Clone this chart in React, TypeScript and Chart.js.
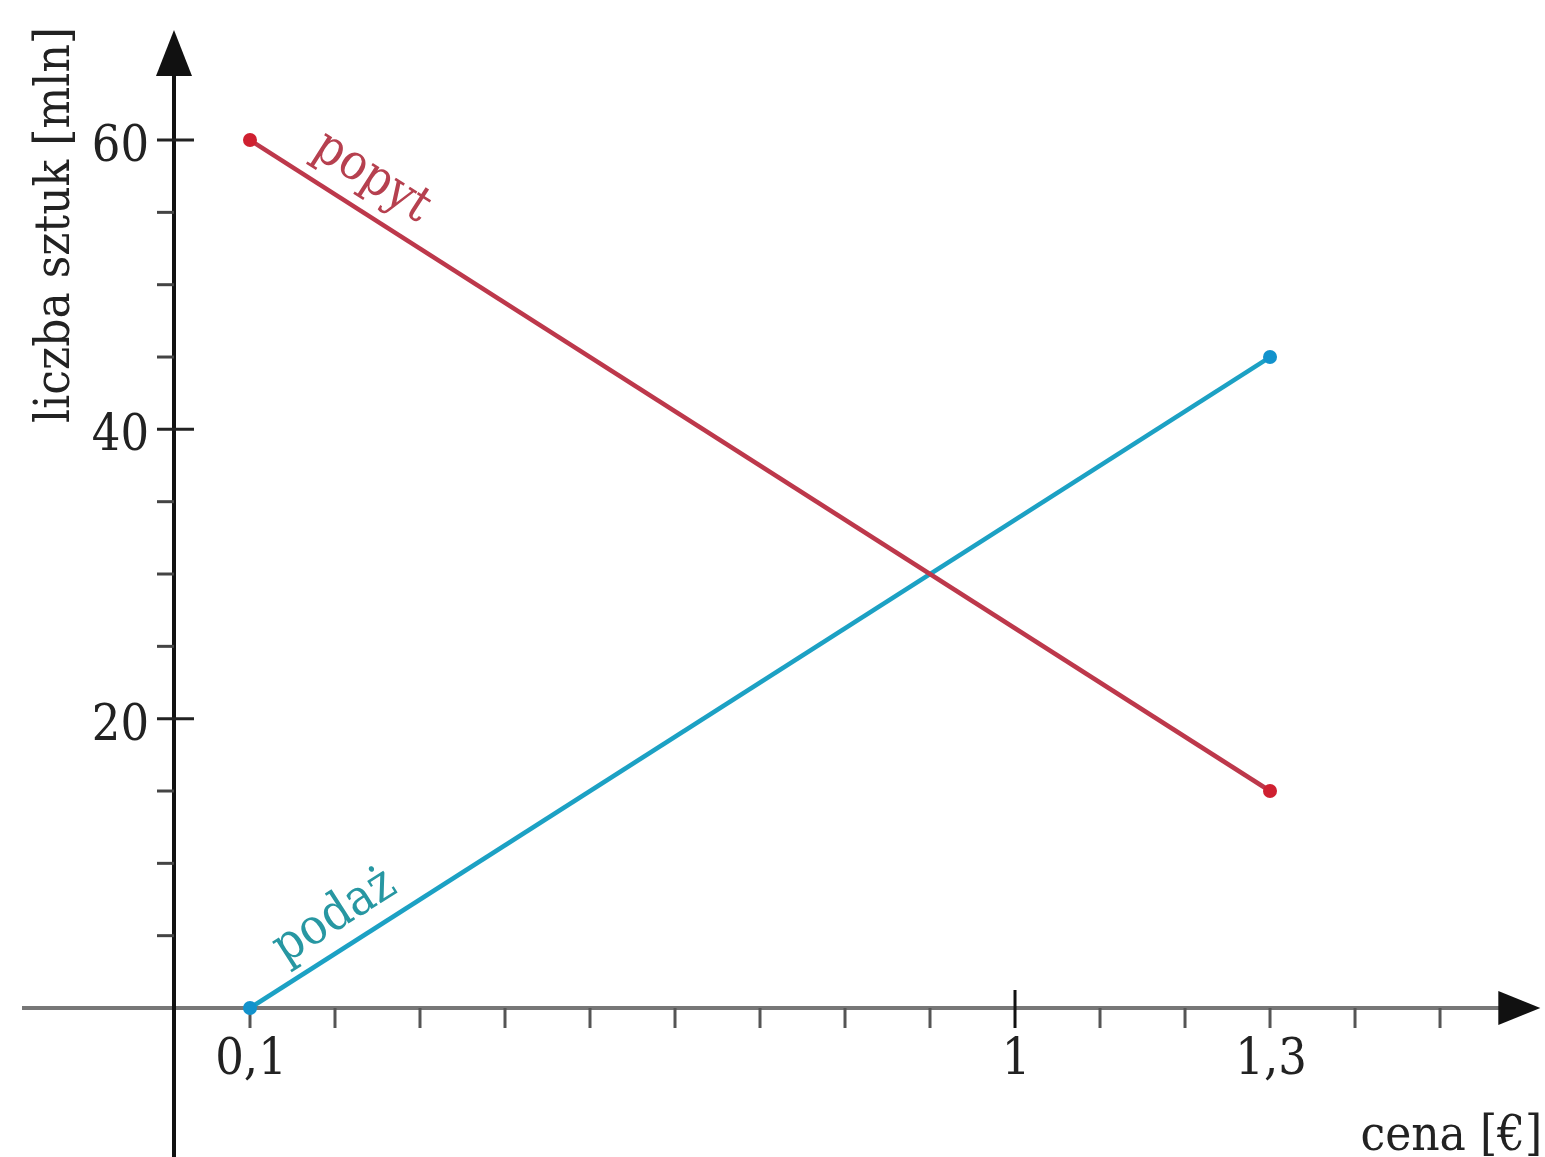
import React, { useEffect, useRef } from "react";
import { Chart, registerables } from "chart.js";

Chart.register(...registerables);

// ---- data ----
const priceSeries = [0.1, 1.3];
const demandValues = [60, 15];
const supplyValues = [0, 45];
const seriesNames = ["popyt", "podaż"];
const seriesLineColors = ["#bd384b", "#1ca1c4"];
const seriesPointColors = ["#cf2030", "#1292cc"];
const seriesLabelColors = ["#b6404f", "#2797a2"];
// label anchor points (data coords) for the in-chart series names
const labelX = [0.243, 0.2];
const labelY = [57.4, 6.3];

const xTickValues = [0.1, 0.2, 0.3, 0.4, 0.5, 0.6, 0.7, 0.8, 0.9, 1.0, 1.1, 1.2, 1.3, 1.4, 1.5];
const xMajorTicks = [1.0];
const xTickLabels: [number, string][] = [
  [0.1, "0,1"],
  [1.0, "1"],
  [1.3, "1,3"],
];
const yTickValues = [5, 10, 15, 20, 25, 30, 35, 40, 45, 50, 55, 60];
const yMajorTicks = [20, 40, 60];
const yTickLabels: [number, string][] = [
  [20, "20"],
  [40, "40"],
  [60, "60"],
];
const xTitle = "cena [€]";
const yTitle = "liczba sztuk [mln]";

// axis extents
const X_MIN = -0.1941;
const X_MAX = 1.6235;
const Y_MIN = -10.3;
const Y_MAX = 69.68;
const AXIS_X = 0.0106; // where the vertical axis crosses
const X_AXIS_START = -0.1682;
const X_AXIS_END = 1.618;
const Y_AXIS_END = 67.6;

const FONT = '"DejaVu Serif Condensed", "DejaVu Serif", serif';

const axesPlugin = {
  id: "customAxes",
  beforeDatasetsDraw(chart: any) {
    const { ctx } = chart;
    const xs = chart.scales.x;
    const ys = chart.scales.y;
    const ax = xs.getPixelForValue(AXIS_X);
    const ay = ys.getPixelForValue(0);
    const left = xs.getPixelForValue(X_AXIS_START);
    const xEnd = xs.getPixelForValue(X_AXIS_END);
    const yEnd = ys.getPixelForValue(Y_AXIS_END);
    const bottom = ys.getPixelForValue(Y_MIN);
    ctx.save();
    // x axis line
    ctx.strokeStyle = "#777";
    ctx.lineWidth = 4;
    ctx.beginPath();
    ctx.moveTo(left, ay);
    ctx.lineTo(xEnd - 38, ay);
    ctx.stroke();
    // x arrow
    ctx.fillStyle = "#111";
    ctx.beginPath();
    ctx.moveTo(xEnd, ay);
    ctx.lineTo(xEnd - 42, ay - 17);
    ctx.lineTo(xEnd - 42, ay + 17);
    ctx.closePath();
    ctx.fill();
    // x ticks
    for (const v of xTickValues) {
      const px = xs.getPixelForValue(v);
      const major = xMajorTicks.includes(v);
      ctx.strokeStyle = major ? "#111" : "#555";
      ctx.lineWidth = 3;
      ctx.beginPath();
      ctx.moveTo(px, major ? ay - 18 : ay);
      ctx.lineTo(px, ay + 20);
      ctx.stroke();
    }
    // y axis line
    ctx.strokeStyle = "#111";
    ctx.lineWidth = 4;
    ctx.beginPath();
    ctx.moveTo(ax, bottom);
    ctx.lineTo(ax, yEnd + 40);
    ctx.stroke();
    // y arrow
    ctx.fillStyle = "#111";
    ctx.beginPath();
    ctx.moveTo(ax, yEnd);
    ctx.lineTo(ax - 18, yEnd + 46);
    ctx.lineTo(ax + 18, yEnd + 46);
    ctx.closePath();
    ctx.fill();
    // y ticks
    for (const v of yTickValues) {
      const py = ys.getPixelForValue(v);
      const major = yMajorTicks.includes(v);
      ctx.strokeStyle = major ? "#222" : "#444";
      ctx.lineWidth = 3;
      ctx.beginPath();
      ctx.moveTo(ax - 17, py);
      ctx.lineTo(major ? ax + 20 : ax, py);
      ctx.stroke();
    }
    // tick labels
    ctx.fillStyle = "#222";
    ctx.font = `50px ${FONT}`;
    ctx.textAlign = "center";
    ctx.textBaseline = "alphabetic";
    for (const [v, t] of xTickLabels) {
      ctx.fillText(t, xs.getPixelForValue(v) + 1, ay + 66);
    }
    ctx.textAlign = "right";
    for (const [v, t] of yTickLabels) {
      ctx.fillText(t, ax - 25, ys.getPixelForValue(v) + 21);
    }
    // axis titles
    ctx.font = `49px ${FONT}`;
    ctx.textAlign = "right";
    ctx.textBaseline = "alphabetic";
    ctx.fillText(xTitle, xs.getPixelForValue(X_AXIS_END) + 2, ay + 142);
    ctx.save();
    ctx.translate(69, 27);
    ctx.rotate(-Math.PI / 2);
    ctx.textAlign = "right";
    ctx.textBaseline = "alphabetic";
    ctx.fillText(yTitle, 0, 0);
    ctx.restore();
    ctx.restore();
  },
  afterDatasetsDraw(chart: any) {
    const { ctx } = chart;
    const xs = chart.scales.x;
    const ys = chart.scales.y;
    const lines = [demandValues, supplyValues];
    ctx.save();
    ctx.font = `50px ${FONT}`;
    ctx.textAlign = "center";
    ctx.textBaseline = "middle";
    lines.forEach((vals, i) => {
      const x0 = xs.getPixelForValue(priceSeries[0]);
      const x1 = xs.getPixelForValue(priceSeries[1]);
      const y0 = ys.getPixelForValue(vals[0]);
      const y1 = ys.getPixelForValue(vals[1]);
      const ang = Math.atan2(y1 - y0, x1 - x0);
      ctx.save();
      ctx.translate(xs.getPixelForValue(labelX[i]), ys.getPixelForValue(labelY[i]));
      ctx.rotate(ang);
      ctx.fillStyle = seriesLabelColors[i];
      ctx.fillText(seriesNames[i], 0, 0);
      ctx.restore();
    });
    ctx.restore();
  },
};

export default function App() {
  const ref = useRef<HTMLCanvasElement | null>(null);
  useEffect(() => {
    document.body.style.margin = "0";
    document.body.style.overflow = "hidden";
    const canvas = ref.current;
    if (!canvas) return;
    const mk = (vals: number[]) => priceSeries.map((x, i) => ({ x, y: vals[i] }));
    const chart = new Chart(canvas, {
      type: "scatter",
      data: {
        datasets: [demandValues, supplyValues].map((vals, i) => ({
          label: seriesNames[i],
          data: mk(vals),
          showLine: true,
          borderColor: seriesLineColors[i],
          borderWidth: 4.5,
          pointRadius: 7,
          pointBorderWidth: 0,
          pointBackgroundColor: seriesPointColors[i],
          pointBorderColor: seriesPointColors[i],
        })),
      },
      options: {
        animation: false,
        responsive: false,
        maintainAspectRatio: false,
        layout: { padding: 0, autoPadding: false },
        plugins: { legend: { display: false }, tooltip: { enabled: false } },
        scales: {
          x: { type: "linear", min: X_MIN, max: X_MAX, display: false },
          y: { type: "linear", min: Y_MIN, max: Y_MAX, display: false },
        },
      },
      plugins: [axesPlugin],
    });
    return () => chart.destroy();
  }, []);
  return (
    <canvas
      ref={ref}
      width={1545}
      height={1157}
      style={{ display: "block", width: "1545px", height: "1157px", background: "#fff" }}
    />
  );
}
